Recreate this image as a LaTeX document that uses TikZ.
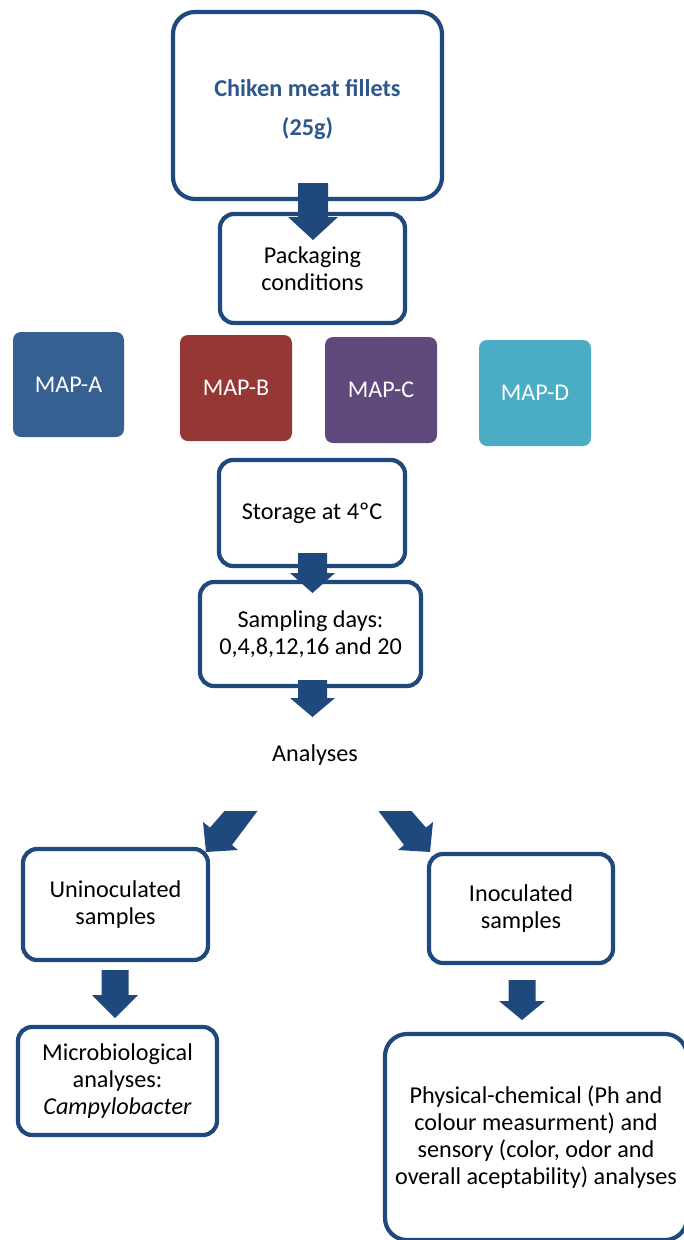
\documentclass[tikz,border=0pt]{standalone}
\usepackage{fontspec}
\setmainfont{Carlito}
\definecolor{navy}{RGB}{31,73,125}
\definecolor{titleblue}{RGB}{46,88,140}
\definecolor{mapa}{HTML}{376092}
\definecolor{mapb}{HTML}{953735}
\definecolor{mapc}{HTML}{604A7B}
\definecolor{mapd}{HTML}{4BACC6}
\tikzset{
  stepbox/.style={draw=navy, line width=4.2pt, rounded corners=14pt, fill=white,
    align=center, inner sep=0pt, font=\fontsize{24.2}{27}\selectfont},
  mapbox/.style={rounded corners=8pt, inner sep=0pt, text=white,
    font=\fontsize{24}{27}\selectfont},
  blockarrow/.style={fill=navy, draw=none},
}
% \varrow{cx}{shaft top}{head base}{tip}{shaft half width}{head half width}
\newcommand{\varrow}[6]{%
  \fill[blockarrow] (#1-#5,#2) -- (#1+#5,#2) -- (#1+#5,#3) -- (#1+#6,#3)
    -- (#1,#4) -- (#1-#6,#3) -- (#1-#5,#3) -- cycle;}
\begin{document}
\begin{tikzpicture}[x=1pt,y=-1pt]
\useasboundingbox (0,0) rectangle (684,1240);

% boxes
\node[stepbox, rounded corners=22pt, minimum width=269pt, minimum height=187pt,
  text=titleblue, font=\fontsize{24.2}{39}\selectfont\bfseries]
  (chick) at (307.5,105.5) {\rule{0pt}{25pt}Chiken meat fillets\\(25g)};
\node[stepbox, minimum width=185pt, minimum height=109pt]
  (pack) at (312.5,268.5) {Packaging\\conditions};

\node[mapbox, fill=mapa, minimum width=111pt, minimum height=105pt] (mapA) at (68.5,384.5) {MAP-A};
\node[mapbox, fill=mapb, minimum width=112pt, minimum height=106pt] (mapB) at (236,388) {MAP-B};
\node[mapbox, fill=mapc, minimum width=112pt, minimum height=106pt] (mapC) at (381,390) {MAP-C};
\node[mapbox, fill=mapd, minimum width=112pt, minimum height=106pt] (mapD) at (535,393) {MAP-D};

\node[stepbox, minimum width=186pt, minimum height=106pt]
  (store) at (312,513) {Storage at 4ºC};
\node[stepbox, minimum width=221pt, minimum height=104pt]
  (samp) at (310.5,634) {Sampling days:\\0,4,8,12,16 and 20};

\node[align=center, inner sep=0pt, font=\fontsize{24.2}{27}\selectfont]
  (anal) at (315,755) {Analyses};

\node[stepbox, minimum width=185pt, minimum height=111pt]
  (unin) at (115.5,904.5) {Uninoculated\\samples};
\node[stepbox, minimum width=184pt, minimum height=109pt]
  (inoc) at (521,908.5) {Inoculated\\samples};
\node[stepbox, minimum width=199pt, minimum height=108pt]
  (micro) at (117.5,1081) {Microbiological\\analyses:\\\textit{Campylobacter}};
\node[stepbox, rounded corners=22pt, minimum width=302pt, minimum height=206pt]
  (phys) at (536,1137) {Physical-chemical (Ph and\\colour measurment) and\\sensory (color, odor and\\overall aceptability) analyses};

% block arrows
\varrow{313}{183}{217}{240}{15}{25}
\varrow{312.5}{553}{573}{593}{14.5}{22.5}
\varrow{312.5}{680}{698}{717}{14.5}{22.5}
\fill[blockarrow] (224.5,811) -- (257.5,811) -- (232,845) -- (238,850)
  -- (206,852) -- (203,822) -- (210,827.6) -- cycle;
\fill[blockarrow] (411.5,811) -- (378.5,811) -- (404,845) -- (398,850)
  -- (430,852) -- (433,822) -- (426,827.6) -- cycle;
\varrow{115}{970}{995}{1018}{13.5}{23}
\varrow{522}{980}{1001}{1020}{13.5}{23}
\end{tikzpicture}
\end{document}
